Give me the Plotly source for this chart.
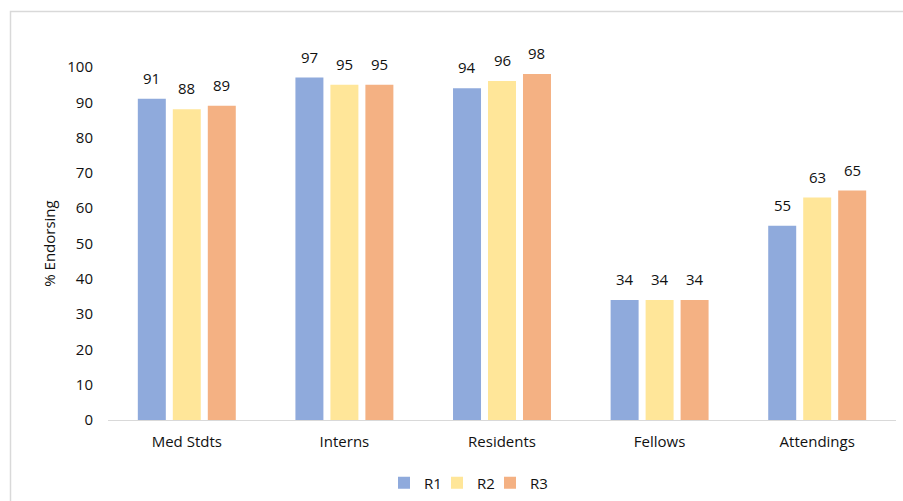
import plotly.graph_objects as go

# Endorsement rates by training level across three rounds
categories = ["Med Stdts", "Interns", "Residents", "Fellows", "Attendings"]
r1 = [91, 97, 94, 34, 55]
r2 = [88, 95, 96, 34, 63]
r3 = [89, 95, 98, 34, 65]
series_names = ["R1", "R2", "R3"]
colors = ["#8FAADC", "#FFE699", "#F4B183"]
y_ticks = [0, 10, 20, 30, 40, 50, 60, 70, 80, 90, 100]

FONT = "Open Sans"
TEXT = "#111111"

W, H = 903, 501
ML, MR, MT, MB = 108, 7, 67, 81
plot_w = W - ML - MR
plot_h = H - MT - MB

fig = go.Figure()
series = [r1, r2, r3]
for k, (name, vals, col) in enumerate(zip(series_names, series, colors)):
    fig.add_trace(go.Bar(
        x=categories, y=vals, name=name,
        marker=dict(color=col, line=dict(width=0)),
        legendwidth=8 if k < len(series) - 1 else 22,
    ))

# value labels above each bar, offset to the bar's slot within the group
slot_px = plot_w / len(categories) * (1 - 0.334) / 3
annotations = []
for i, vals in enumerate(series):
    for c, v in zip(categories, vals):
        annotations.append(dict(
            x=c, y=v, xref="x", yref="y", text=str(v),
            showarrow=False, yanchor="bottom", xanchor="center",
            xshift=(i - 1) * slot_px, yshift=9,
            font=dict(family=FONT, size=15, color=TEXT),
        ))

# outer chart frame (extends past the right and bottom edges)
def px_to_paper_x(px):
    return (px - ML) / plot_w

def px_to_paper_y(py):
    return (H - MB - py) / plot_h

fig.update_layout(
    width=W, height=H,
    margin=dict(l=ML, r=MR, t=MT, b=MB, autoexpand=False),
    paper_bgcolor="white", plot_bgcolor="white",
    barmode="group", bargap=0.334, bargroupgap=0.2,
    font=dict(family=FONT, size=15, color=TEXT),
    annotations=annotations,
    shapes=[dict(
        type="rect", xref="paper", yref="paper",
        x0=px_to_paper_x(10.5), x1=px_to_paper_x(910),
        y0=px_to_paper_y(510), y1=px_to_paper_y(11.5),
        line=dict(color="#D9D9D9", width=1.5), fillcolor="rgba(0,0,0,0)",
        layer="below",
    )],
    xaxis=dict(
        showgrid=False, showline=True, linecolor="#D9D9D9", linewidth=1,
        ticks="", ticklabelstandoff=8,
        tickfont=dict(family=FONT, size=15, color=TEXT),
        fixedrange=True,
    ),
    yaxis=dict(
        range=[0, 100], tickvals=y_ticks, showgrid=False, showline=False,
        zeroline=False, ticks="", ticklabelstandoff=14,
        tickfont=dict(family=FONT, size=15, color=TEXT),
        title=dict(text="% Endorsing", standoff=8,
                   font=dict(family=FONT, size=15, color=TEXT)),
        fixedrange=True,
    ),
    legend=dict(
        orientation="h", xanchor="left", yanchor="middle",
        x=px_to_paper_x(384), y=px_to_paper_y(483),
        font=dict(family=FONT, size=15, color=TEXT),
        bgcolor="rgba(0,0,0,0)",
    ),
)

fig.write_html("out.html")
